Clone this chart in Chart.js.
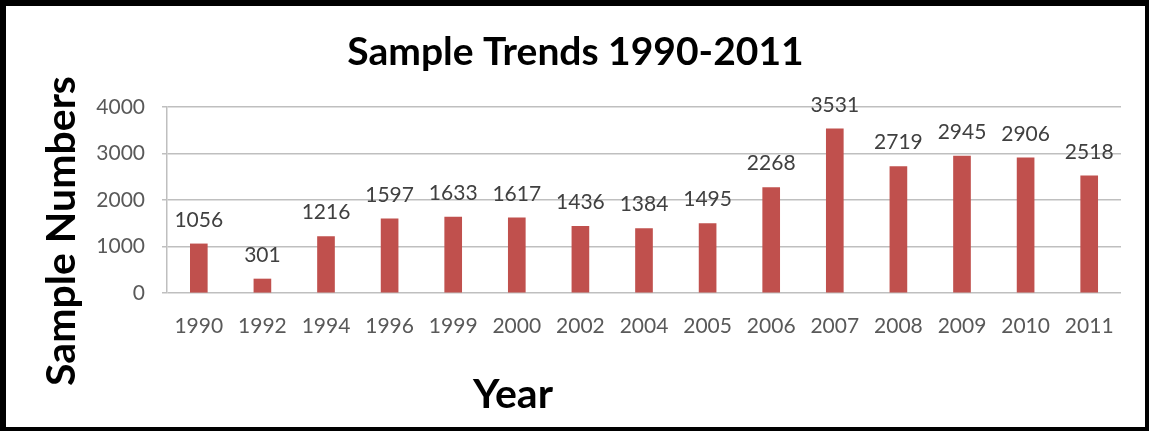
<!DOCTYPE html>
<html>
<head>
<meta charset="utf-8">
<script src="https://cdn.jsdelivr.net/npm/chart.js@4.4.0/dist/chart.umd.min.js"></script>
<style>
  html, body { margin: 0; padding: 0; background: #fff; }
  #frame {
    position: absolute; left: 0; top: 0;
    width: 1149px; height: 431px;
    box-sizing: border-box;
    border-style: solid; border-color: #000;
    border-width: 6px 4px 4px 6px;
    background: #fff;
  }
  #chart { display: block; }
</style>
</head>
<body>
<div id="frame"><canvas id="chart" width="1139" height="421"></canvas></div>
<script>
const years = ['1990','1992','1994','1996','1999','2000','2002','2004','2005','2006','2007','2008','2009','2010','2011'];
const sampleNumbers = [1056, 301, 1216, 1597, 1633, 1617, 1436, 1384, 1495, 2268, 3531, 2719, 2945, 2906, 2518];
const yTicks = [0, 1000, 2000, 3000, 4000];

const chartTitle = 'Sample Trends 1990-2011';
const xTitle = 'Year';
const yTitle = 'Sample Numbers';

const FONT = 'Lato, "Open Sans", sans-serif';

// titles and value labels, Excel style
const textPlugin = {
  id: 'texts',
  afterDatasetsDraw(chart) {
    const ctx = chart.ctx;
    const meta = chart.getDatasetMeta(0);
    ctx.save();
    ctx.fillStyle = '#404040';
    ctx.font = '21px ' + FONT;
    ctx.textAlign = 'center';
    ctx.textBaseline = 'middle';
    meta.data.forEach((bar, i) => {
      ctx.fillText(String(sampleNumbers[i]), bar.x, bar.y - 24);
    });
    ctx.restore();
  },
  afterDraw(chart) {
    const ctx = chart.ctx;
    ctx.save();
    ctx.fillStyle = '#000';
    ctx.textAlign = 'center';
    ctx.textBaseline = 'alphabetic';
    ctx.font = 'bold 39px ' + FONT;
    ctx.fillText(chartTitle, chart.width / 2, 59);
    ctx.font = 'bold 41px ' + FONT;
    ctx.fillText(xTitle, 507, 402);
    ctx.translate(69, 225);
    ctx.rotate(-Math.PI / 2);
    ctx.font = 'bold 41px ' + FONT;
    ctx.fillText(yTitle, 0, 0);
    ctx.restore();
  }
};

new Chart(document.getElementById('chart'), {
  type: 'bar',
  data: {
    labels: years,
    datasets: [{
      data: sampleNumbers,
      backgroundColor: '#C0504D',
      barThickness: 17
    }]
  },
  options: {
    responsive: false,
    animation: false,
    layout: { padding: { top: 101, right: 24, left: 0, bottom: 0 } },
    plugins: {
      legend: { display: false },
      tooltip: { enabled: false },
      title: { display: false }
    },
    scales: {
      x: {
        grid: { display: false },
        border: { display: false },
        ticks: {
          color: '#595959',
          font: { family: FONT, size: 21 },
          padding: 13,
          maxRotation: 0,
          autoSkip: false
        },
        afterFit(scale) { scale.height = 134; }
      },
      y: {
        min: 0,
        max: 4000,
        afterBuildTicks(scale) { scale.ticks = yTicks.map(v => ({ value: v })); },
        grid: { color: '#BFBFBF', lineWidth: 1.5, tickLength: 5 },
        border: { display: true, color: '#BFBFBF', width: 1.5 },
        ticks: {
          color: '#595959',
          font: { family: FONT, size: 21 },
          padding: 17,
          callback: v => String(v)
        },
        afterFit(scale) { scale.width = 161; }
      }
    }
  },
  plugins: [textPlugin]
});
</script>
</body>
</html>
